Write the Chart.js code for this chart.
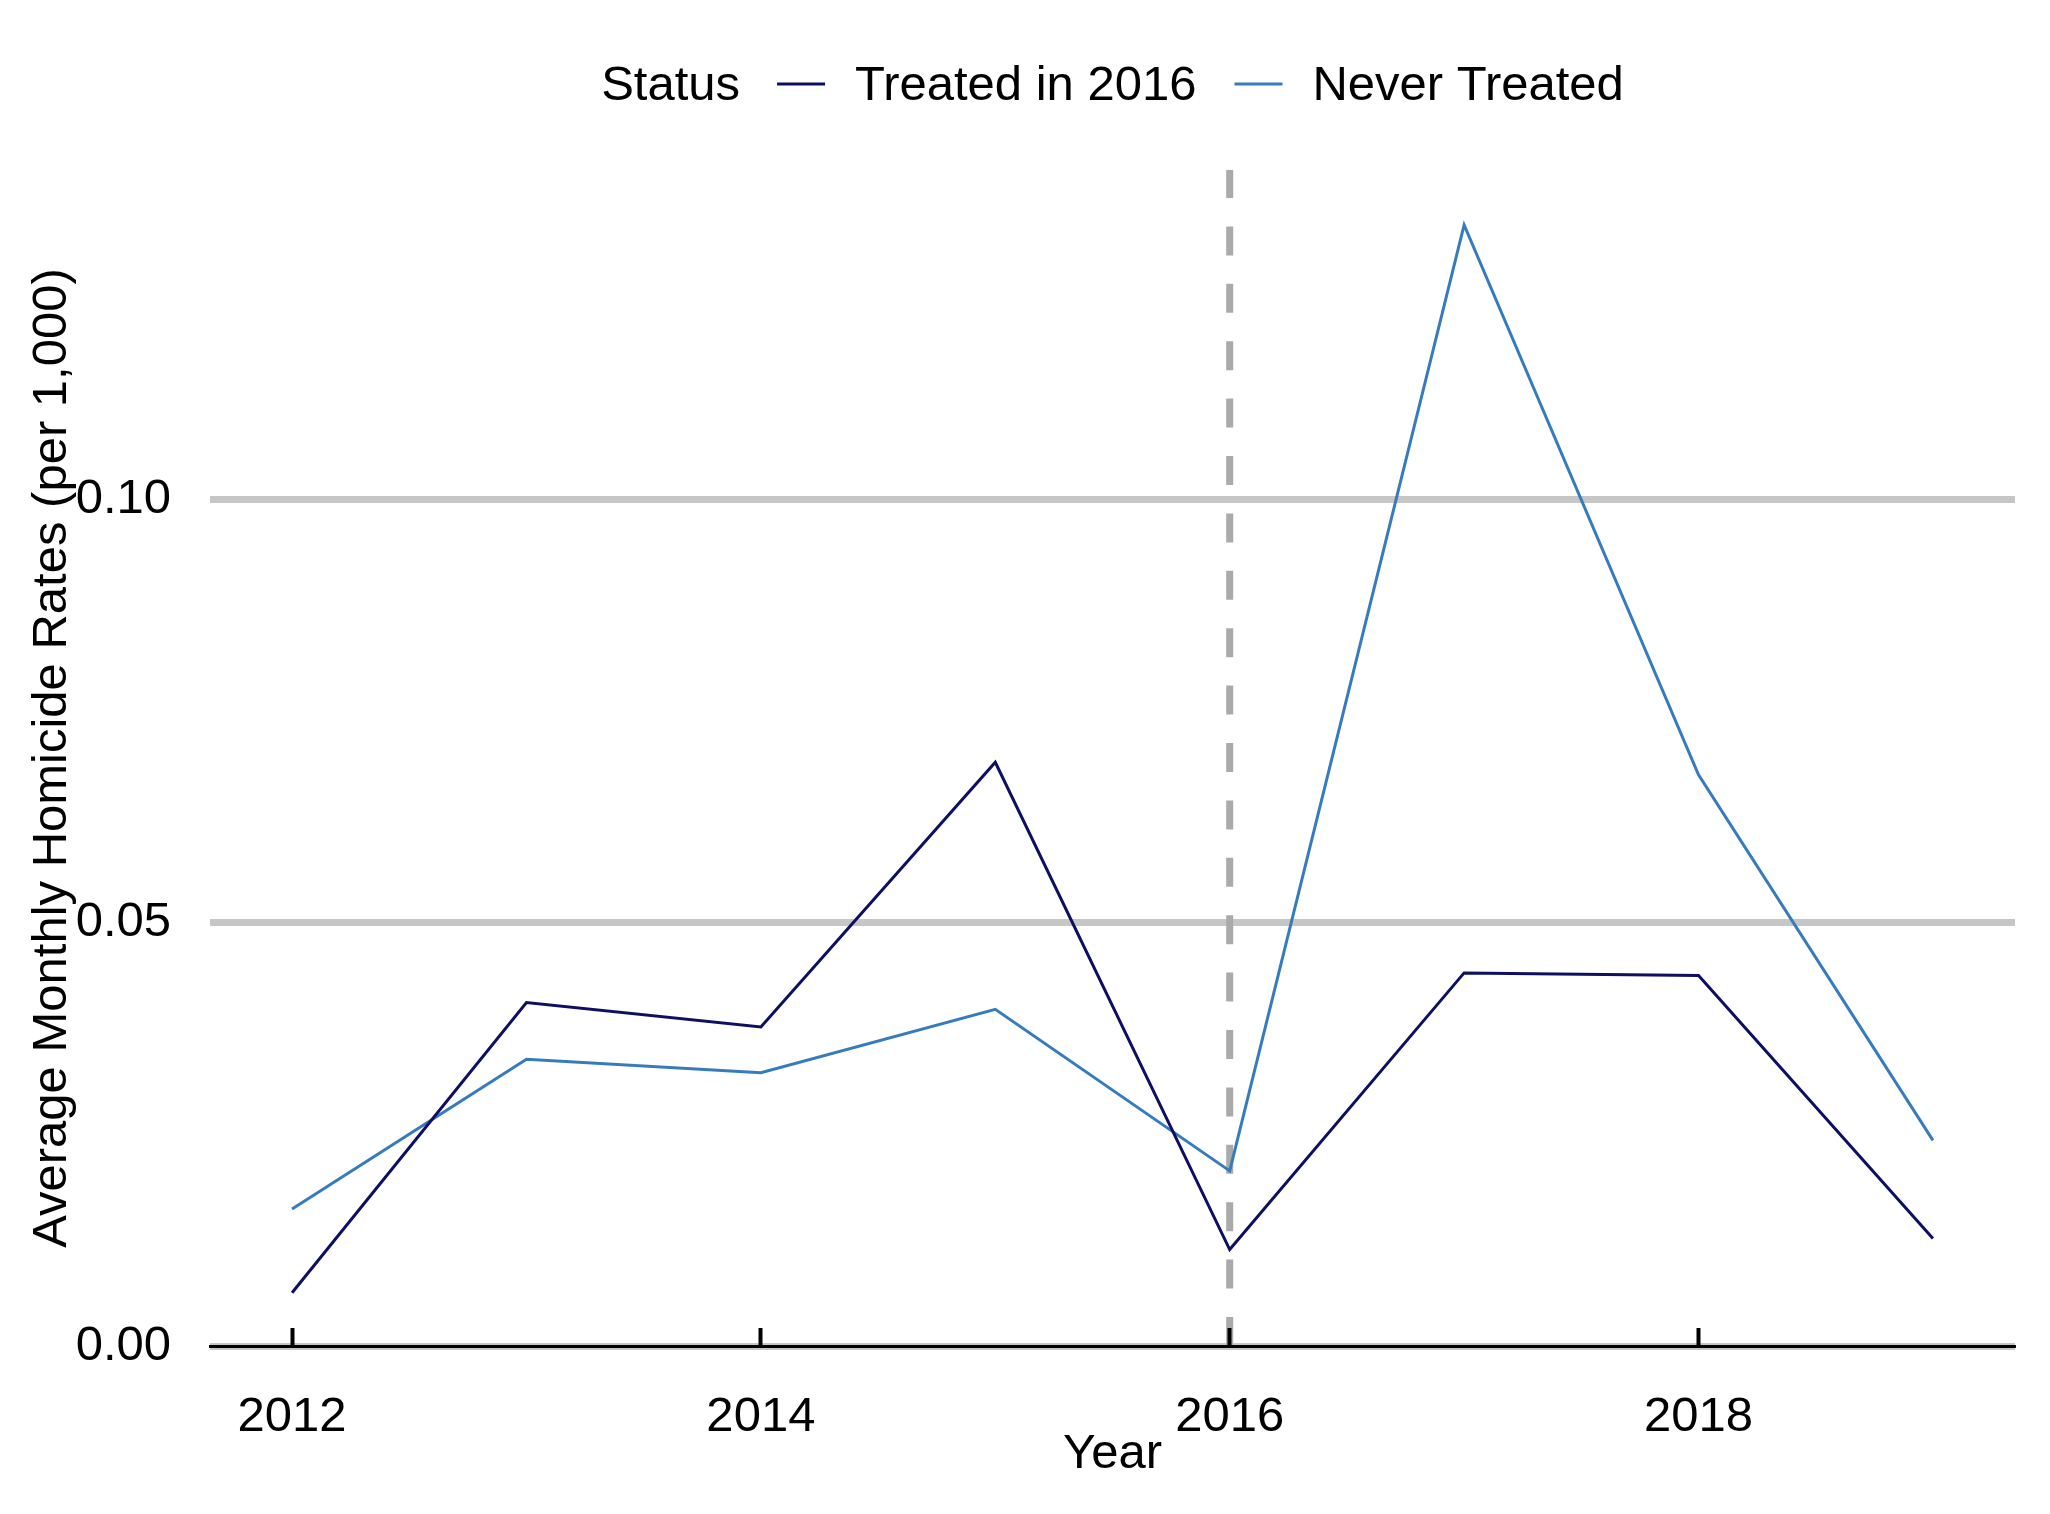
<!DOCTYPE html>
<html>
<head>
<meta charset="utf-8">
<style>
  html, body { margin: 0; padding: 0; background: #fff; }
  #wrap { width: 2050px; height: 1514px; }
</style>
<script src="https://cdn.jsdelivr.net/npm/chart.js@4.4.1/dist/chart.umd.min.js"></script>
</head>
<body>
<div id="wrap"><canvas id="myChart" width="2050" height="1514"></canvas></div>
<script>
// Data
const years = [2012, 2013, 2014, 2015, 2016, 2017, 2018, 2019];
const treated2016 = [0.0063, 0.0406, 0.0377, 0.0690, 0.0114, 0.0441, 0.0438, 0.0127];
const neverTreated = [0.0162, 0.0339, 0.0323, 0.0398, 0.0207, 0.1325, 0.0675, 0.0243];
const seriesNames = ['Treated in 2016', 'Never Treated'];
const legendTitle = 'Status';
const xTicks = [2012, 2014, 2016, 2018];
const yTicks = [0, 0.05, 0.10];
const treatmentYear = 2016;
const xMin = 2011.65, xMax = 2019.35;
const yMin = 0, yMax = 0.139;

const navy = '#0e0e62';
const blue = '#367bbd';
const FONT = '"Liberation Sans", Arial, Helvetica, sans-serif';

Chart.defaults.font.family = FONT;
Chart.defaults.font.size = 49;
Chart.defaults.color = '#000';

// white background + "Status" legend in a row
const bgColor = {
    id: 'bgColor',
    beforeDraw: (chart) => {
        const { ctx, width, height } = chart;
        ctx.save();
        ctx.fillStyle = 'white';
        ctx.fillRect(0, 0, width, height);
        ctx.restore();
    }
};

const statusLegend = {
    id: 'statusLegend',
    afterDraw: (chart) => {
        const { ctx, chartArea } = chart;
        const items = chart.data.datasets.filter(d => d.inLegend);
        const lineLen = 48, gapTitle = 37, gapText = 30, gapItem = 38;
        ctx.save();
        ctx.font = '49px ' + FONT;
        ctx.textBaseline = 'middle';
        ctx.fillStyle = '#000';
        let total = ctx.measureText(legendTitle).width + gapTitle;
        items.forEach((d, i) => {
            total += lineLen + gapText + ctx.measureText(d.label).width;
            if (i < items.length - 1) total += gapItem;
        });
        let x = (chartArea.left + chartArea.right) / 2 - total / 2;
        const y = 86;
        ctx.fillText(legendTitle, x, y);
        x += ctx.measureText(legendTitle).width + gapTitle;
        items.forEach((d) => {
            ctx.strokeStyle = d.borderColor;
            ctx.lineWidth = 3;
            ctx.beginPath();
            ctx.moveTo(x, y - 2);
            ctx.lineTo(x + lineLen, y - 2);
            ctx.stroke();
            x += lineLen + gapText;
            ctx.fillText(d.label, x, y);
            x += ctx.measureText(d.label).width + gapItem;
        });
        ctx.restore();
    }
};

const ctx = document.getElementById('myChart');
const myChart = new Chart(ctx, {
    type: 'line',
    data: {
        datasets: [{
            label: seriesNames[0],
            inLegend: true,
            data: years.map((yr, i) => ({ x: yr, y: treated2016[i] })),
            borderColor: navy,
            borderWidth: 3,
            pointRadius: 0,
            order: 1
        }, {
            label: seriesNames[1],
            inLegend: true,
            data: years.map((yr, i) => ({ x: yr, y: neverTreated[i] })),
            borderColor: blue,
            borderWidth: 3,
            pointRadius: 0,
            order: 2
        }, {
            label: 'treatment',
            inLegend: false,
            data: [{ x: treatmentYear, y: yMin }, { x: treatmentYear, y: yMax }],
            borderColor: '#aaaaaa',
            borderWidth: 7,
            borderDash: [29, 28.4],
            borderCapStyle: 'butt',
            pointRadius: 0,
            order: 3
        }]
    },
    options: {
        responsive: false,
        animation: false,
        devicePixelRatio: 1,
        layout: { padding: { top: 170, right: 35, left: 0, bottom: 0 } },
        plugins: {
            legend: { display: false },
            tooltip: { enabled: false }
        },
        scales: {
            x: {
                type: 'linear',
                min: xMin,
                max: xMax,
                afterFit: (scale) => { scale.height = 168; },
                afterBuildTicks: (scale) => { scale.ticks = xTicks.map(v => ({ value: v })); },
                grid: {
                    drawOnChartArea: false,
                    drawTicks: true,
                    tickLength: -18,
                    tickWidth: 4,
                    tickColor: '#000',
                    z: 1
                },
                border: { display: true, color: '#000', width: 3, z: 1 },
                ticks: {
                    padding: 60,
                    maxRotation: 0,
                    callback: (v) => String(v)
                },
                title: {
                    display: true,
                    text: 'Year',
                    padding: { top: 0, bottom: 30 }
                }
            },
            y: {
                min: yMin,
                max: yMax,
                afterFit: (scale) => { scale.width = 210; },
                afterBuildTicks: (scale) => { scale.ticks = yTicks.map(v => ({ value: v })); },
                grid: {
                    color: '#c6c6c6',
                    lineWidth: 7,
                    drawTicks: false
                },
                border: { display: false },
                ticks: {
                    padding: 39,
                    callback: (v) => v.toFixed(2)
                },
                title: {
                    display: true,
                    text: 'Average Monthly Homicide Rates (per 1,000)',
                    padding: { top: 23, bottom: 0 }
                }
            }
        }
    },
    plugins: [bgColor, statusLegend]
});
</script>
</body>
</html>
